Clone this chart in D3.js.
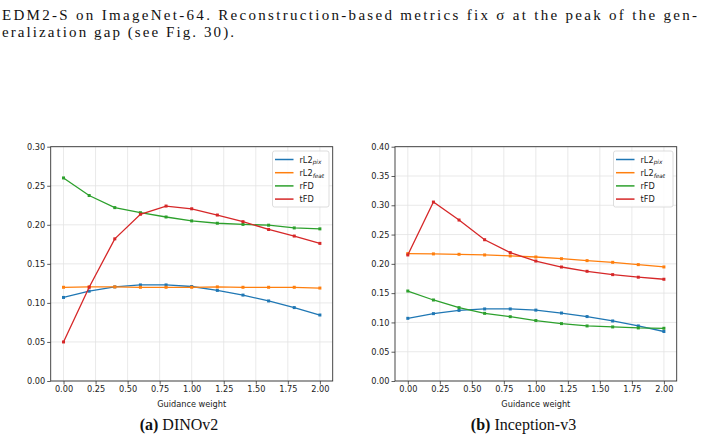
<!DOCTYPE html>
<html>
<head>
<meta charset="utf-8">
<script src="https://cdn.jsdelivr.net/npm/d3@7"></script>
<style>
  body { margin: 0; background: #fff; }
  svg { display: block; }
  .tick text { font-family: "DejaVu Sans", sans-serif; font-size: 8.2px; fill: #222; }
</style>
</head>
<body>
<div id="vis"></div>
<script>
// guidance weights (x values)
var weights = [0, 0.2, 0.4, 0.6, 0.8, 1.0, 1.2, 1.4, 1.6, 1.8, 2.0];

// (a) DINOv2
var dinoL2pix  = [0.107, 0.115, 0.1205, 0.123, 0.123, 0.121, 0.116, 0.110, 0.1025, 0.094, 0.0845];
var dinoL2feat = [0.120, 0.1205, 0.1205, 0.120, 0.120, 0.120, 0.1205, 0.120, 0.120, 0.120, 0.119];
var dinoRFD    = [0.260, 0.2375, 0.222, 0.2155, 0.210, 0.205, 0.202, 0.2005, 0.1995, 0.196, 0.1948];
var dinoTFD    = [0.050, 0.120, 0.182, 0.2135, 0.224, 0.2205, 0.2125, 0.204, 0.194, 0.1856, 0.1762];

// (b) Inception-v3
var incL2pix  = [0.107, 0.115, 0.1205, 0.123, 0.123, 0.121, 0.116, 0.110, 0.1025, 0.094, 0.0845];
var incL2feat = [0.2175, 0.217, 0.2163, 0.2152, 0.2135, 0.2117, 0.2088, 0.2055, 0.2026, 0.1987, 0.1947];
var incRFD    = [0.1536, 0.1383, 0.1252, 0.1155, 0.1098, 0.1032, 0.098, 0.094, 0.0923, 0.0906, 0.090];
var incTFD    = [0.2152, 0.3055, 0.2748, 0.2412, 0.2192, 0.2048, 0.1946, 0.1873, 0.1816, 0.1772, 0.1737];

var seriesNames = ['rL2', 'rL2', 'rFD', 'tFD'];
var seriesSubs  = ['pix', 'feat', '', ''];
var colors = ['#1f77b4', '#ff7f0e', '#2ca02c', '#d62728'];

var xTicks = [0, 0.25, 0.5, 0.75, 1.0, 1.25, 1.5, 1.75, 2.0];

var width = 703, height = 440;

var svg = d3.select('#vis').append('svg')
  .attr('width', width)
  .attr('height', height);

// caption text from the paper above the figure
var capLines = [
  {text: 'EDM2-S on ImageNet-64. Reconstruction-based metrics fix \u03c3 at the peak of the gen-', y: 19.5, len: 695},
  {text: 'eralization gap (see Fig. 30).', y: 36.5, len: 232}
];
capLines.forEach(function(l) {
  svg.append('text')
    .attr('x', 2)
    .attr('y', l.y)
    .attr('textLength', l.len)
    .attr('lengthAdjust', 'spacing')
    .style('font-family', '"Liberation Serif", serif')
    .style('font-size', '15px')
    .style('fill', '#111')
    .text(l.text);
});

function panel(opts) {
  var g = svg.append('g');
  var x = d3.scaleLinear().domain([-0.1, 2.1]).range([opts.left, opts.right]);
  var y = d3.scaleLinear().domain([0, opts.ymax]).range([opts.bottom, opts.top]);
  var yTicks = d3.range(0, opts.ymax + 0.001, 0.05);

  // grid
  g.selectAll('.gx').data(xTicks).enter().append('line')
    .attr('x1', function(d) { return x(d); }).attr('x2', function(d) { return x(d); })
    .attr('y1', opts.top).attr('y2', opts.bottom)
    .attr('stroke', '#e3e3e3').attr('stroke-width', 0.8);
  g.selectAll('.gy').data(yTicks).enter().append('line')
    .attr('y1', function(d) { return y(d); }).attr('y2', function(d) { return y(d); })
    .attr('x1', opts.left).attr('x2', opts.right)
    .attr('stroke', '#e3e3e3').attr('stroke-width', 0.8);

  // axes
  var xa = g.append('g').attr('transform', 'translate(0,' + opts.bottom + ')')
    .call(d3.axisBottom(x).tickValues(xTicks).tickFormat(d3.format('.2f')).tickSize(3.5).tickPadding(2));
  var ya = g.append('g').attr('transform', 'translate(' + opts.left + ',0)')
    .call(d3.axisLeft(y).tickValues(yTicks).tickFormat(d3.format('.2f')).tickSize(3.5).tickPadding(2));
  [xa, ya].forEach(function(a) {
    a.select('.domain').remove();
    a.selectAll('.tick line').attr('stroke', '#333').attr('stroke-width', 0.8);
  });

  // frame
  g.append('rect')
    .attr('x', opts.left).attr('y', opts.top)
    .attr('width', opts.right - opts.left).attr('height', opts.bottom - opts.top)
    .attr('fill', 'none').attr('stroke', '#333').attr('stroke-width', 0.9);

  g.append('text')
    .attr('x', (opts.left + opts.right) / 2)
    .attr('y', opts.bottom + 25.5)
    .attr('text-anchor', 'middle')
    .style('font-family', '"DejaVu Sans", sans-serif')
    .style('font-size', '8.2px')
    .style('fill', '#222')
    .text('Guidance weight');

  var line = d3.line()
    .x(function(d, i) { return x(weights[i]); })
    .y(function(d) { return y(d); });

  opts.series.forEach(function(s, k) {
    g.append('path').datum(s)
      .attr('d', line)
      .attr('fill', 'none')
      .attr('stroke', colors[k])
      .attr('stroke-width', 1.3);
    g.selectAll('.m' + k).data(s).enter().append('rect')
      .attr('x', function(d, i) { return x(weights[i]) - 1.5; })
      .attr('y', function(d) { return y(d) - 1.5; })
      .attr('width', 3).attr('height', 3)
      .attr('fill', colors[k]);
  });

  // legend
  var lw = opts.legendW, lx = opts.right - 3.7 - lw, ly = opts.top + 4.3;
  g.append('rect')
    .attr('x', lx).attr('y', ly).attr('width', lw).attr('height', 56)
    .attr('rx', 2).attr('fill', 'rgba(255,255,255,0.85)')
    .attr('stroke', '#d4d4d4').attr('stroke-width', 0.8);
  seriesNames.forEach(function(n, k) {
    var yy = ly + 8.5 + k * 13.2;
    g.append('line')
      .attr('x1', lx + 2.5).attr('x2', lx + 21)
      .attr('y1', yy).attr('y2', yy)
      .attr('stroke', colors[k]).attr('stroke-width', 1.5);
    var t = g.append('text')
      .attr('x', lx + 27).attr('y', yy + 3)
      .style('font-family', '"DejaVu Sans", sans-serif')
      .style('font-size', '8.2px')
      .style('fill', '#222')
      .text(n);
    if (seriesSubs[k]) {
      t.append('tspan')
        .attr('dy', 1.8)
        .style('font-size', '5.8px')
        .style('font-style', 'italic')
        .text(seriesSubs[k]);
    }
  });

  // subfigure caption
  var c = svg.append('text')
    .attr('x', opts.capX).attr('y', 430)
    .attr('text-anchor', 'middle')
    .style('font-family', '"Liberation Serif", serif')
    .style('font-size', '16px')
    .style('fill', '#111');
  c.append('tspan').style('font-weight', 'bold').text(opts.capTag + ' ');
  c.append('tspan').text(opts.capName);
}

panel({
  left: 50.7, right: 332.7, top: 146.7, bottom: 381, ymax: 0.30,
  series: [dinoL2pix, dinoL2feat, dinoRFD, dinoTFD],
  legendW: 56.5, capX: 179, capTag: '(a)', capName: 'DINOv2'
});
panel({
  left: 395, right: 676.7, top: 146.7, bottom: 381, ymax: 0.40,
  series: [incL2pix, incL2feat, incRFD, incTFD],
  legendW: 59.5, capX: 523.5, capTag: '(b)', capName: 'Inception-v3'
});
</script>
</body>
</html>
